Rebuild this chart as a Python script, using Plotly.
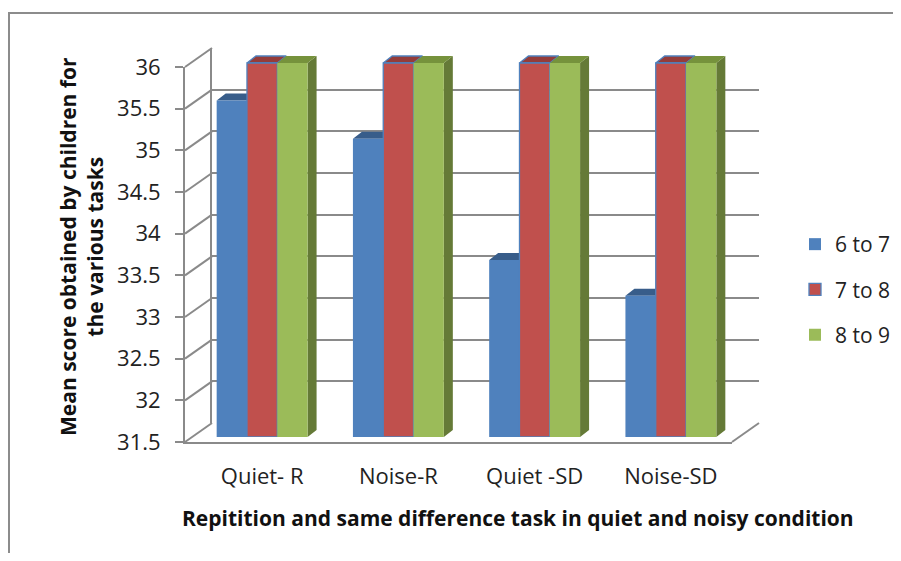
import plotly.graph_objects as go

# ---------------- data ----------------
categories = ["Quiet- R", "Noise-R", "Quiet -SD", "Noise-SD"]
series_names = ["6 to 7", "7 to 8", "8 to 9"]
age_6_7 = [35.55, 35.09, 33.63, 33.2]
age_7_8 = [36, 36, 36, 36]
age_8_9 = [36, 36, 36, 36]
y_ticks = [31.5, 32, 32.5, 33, 33.5, 34, 34.5, 35, 35.5, 36]
y_tick_labels = ["31.5", "32", "32.5", "33", "33.5", "34", "34.5", "35", "35.5", "36"]
x_title = "Repitition and same difference task in quiet and noisy condition"
y_title = "Mean score obtained by children for<br>the various tasks"

series_values = [age_6_7, age_7_8, age_8_9]

# ---------------- styling / geometry ----------------
# the page body has an 8px margin, so the figure is 885x545 placed at (8, 8)
OX, OY = 8, 8
W, H = 885, 545
FONT = "Open Sans"
GRID = "#8a8a8a"
TXT = "#222222"
front_colors = ["#4f81bd", "#c0504d", "#9bbb59"]
top_colors = ["#385d8a", "#943c3a", "#76923c"]
side_colors = ["#3a5f8c", "#8b3a38", "#657a37"]
outline_colors = ["#4f81bd", "#4f81bd", "#9bbb59"]
outline_widths = [0, 1.3, 0]

YMIN, YMAX = 31.5, 36.0
XR = [-0.5, 3.5]


def fx(p):
    """window pixel x -> paper fraction"""
    return (p - OX) / W


def fy(p):
    """window pixel y -> paper fraction"""
    return 1 - (p - OY) / H


# pixel boxes (window coordinates)
FRONT_X, FRONT_Y = (185, 732), (442, 67)
BACK_X, BACK_Y = (212, 759), (423, 48)
BAR_X = (194, 739)
BAR_BOTTOM, BAR_PX_PER_UNIT = 437, (437 - 63) / (YMAX - YMIN)
BAR_YMAX = 36.5
BAR_TOP = BAR_BOTTOM - (BAR_YMAX - YMIN) * BAR_PX_PER_UNIT

cat_px = (BAR_X[1] - BAR_X[0]) / 4
bw = 30.3 / cat_px
ddx = 9 / cat_px
ddy = 7 / BAR_PX_PER_UNIT

fig = go.Figure()

# empty traces so the wall / front-axis subplots are rendered
fig.add_trace(go.Scatter(x=[], y=[], xaxis="x", yaxis="y", showlegend=False, hoverinfo="skip"))
fig.add_trace(go.Scatter(x=[], y=[], xaxis="x2", yaxis="y2", showlegend=False, hoverinfo="skip"))

# 3D faces (sides and tops) under the front faces
for k, vals in enumerate(series_values):
    sx, sy, tx, ty = [], [], [], []
    for i, v in enumerate(vals):
        c = i + (k - 1) * bw
        x0, x1 = c - bw / 2, c + bw / 2
        sx += [x1, x1 + ddx, x1 + ddx, x1, x1, None]
        sy += [YMIN, YMIN + ddy, v + ddy, v, YMIN, None]
        tx += [x0, x0 + ddx, x1 + ddx, x1, x0, None]
        ty += [v, v + ddy, v + ddy, v, v, None]
    fig.add_trace(go.Scatter(x=sx, y=sy, fill="toself", mode="lines",
                             fillcolor=side_colors[k], line=dict(width=0, color=side_colors[k]),
                             xaxis="x3", yaxis="y3", showlegend=False, hoverinfo="skip"))
    fig.add_trace(go.Scatter(x=tx, y=ty, fill="toself", mode="lines",
                             fillcolor=top_colors[k],
                             line=dict(width=outline_widths[k], color=outline_colors[k]),
                             xaxis="x3", yaxis="y3", showlegend=False, hoverinfo="skip"))

# front faces: real bars
for k, vals in enumerate(series_values):
    fig.add_trace(go.Bar(
        x=[i + (k - 1) * bw for i in range(len(categories))],
        y=[v - YMIN for v in vals], base=YMIN, width=bw,
        name=series_names[k], legendgroup=series_names[k],
        marker=dict(color=front_colors[k],
                    line=dict(color=outline_colors[k], width=outline_widths[k])),
        xaxis="x4", yaxis="y4",
        customdata=vals, hovertemplate="%{customdata}<extra>" + series_names[k] + "</extra>",
    ))

# ---------------- decorations: 3D wall connectors ----------------
shapes = []


def front_py(v):
    return FRONT_Y[0] - (v - YMIN) / (YMAX - YMIN) * (FRONT_Y[0] - FRONT_Y[1])


def back_py(v):
    return BACK_Y[0] - (v - YMIN) / (YMAX - YMIN) * (BACK_Y[0] - BACK_Y[1])


for v in y_ticks:
    shapes.append(dict(type="line", xref="paper", yref="paper",
                       x0=fx(FRONT_X[0]), y0=fy(front_py(v)), x1=fx(BACK_X[0]), y1=fy(back_py(v)),
                       line=dict(color=GRID, width=2), layer="below"))
shapes.append(dict(type="line", xref="paper", yref="paper",
                   x0=fx(FRONT_X[1]), y0=fy(front_py(YMIN)), x1=fx(BACK_X[1]), y1=fy(back_py(YMIN)),
                   line=dict(color=GRID, width=2), layer="below"))
# outer chart frame (its right/bottom sides fall outside the picture)
shapes.append(dict(type="rect", xref="paper", yref="paper",
                   x0=fx(9), y0=fy(13), x1=1.2, y1=-0.2,
                   line=dict(color="#8c8c8c", width=2), layer="below"))

off = dict(showgrid=False, zeroline=False, showline=False, showticklabels=False, ticks="")

fig.update_layout(
    width=W, height=H,
    margin=dict(l=0, r=0, t=0, b=0, pad=0, autoexpand=False),
    paper_bgcolor="white", plot_bgcolor="rgba(0,0,0,0)",
    barmode="overlay",
    font=dict(family=FONT, size=21, color=TXT),
    showlegend=True,
    legend=dict(x=fx(795), y=fy(224), xanchor="left", yanchor="top",
                font=dict(family=FONT, size=21, color=TXT),
                tracegroupgap=15, bgcolor="rgba(0,0,0,0)", itemwidth=30),
    # back wall
    xaxis=dict(domain=[fx(BACK_X[0]), fx(BACK_X[1])], range=XR, anchor="y", **off),
    yaxis=dict(domain=[fy(BACK_Y[0]), fy(BACK_Y[1])], range=[YMIN, YMAX], anchor="x",
               tickvals=y_ticks, showgrid=True, gridcolor=GRID, gridwidth=2,
               showline=True, linecolor=GRID, linewidth=2,
               zeroline=False, showticklabels=False, ticks=""),
    # front axes
    xaxis2=dict(domain=[fx(FRONT_X[0]), fx(FRONT_X[1])], range=XR, anchor="y2",
                showline=True, linecolor=GRID, linewidth=2, showgrid=False,
                zeroline=False, showticklabels=False, ticks=""),
    yaxis2=dict(domain=[fy(FRONT_Y[0]), fy(FRONT_Y[1])], range=[YMIN, YMAX], anchor="x2",
                tickvals=y_ticks, ticktext=y_tick_labels, ticks="outside", ticklen=8,
                tickcolor=GRID, tickwidth=2, showline=True, linecolor=GRID, linewidth=2,
                showgrid=False, zeroline=False, ticklabelstandoff=10,
                tickfont=dict(family=FONT, size=22, color=TXT)),
    # bar faces
    xaxis3=dict(domain=[fx(BAR_X[0]), fx(BAR_X[1])], range=XR, anchor="y3", **off),
    yaxis3=dict(domain=[fy(BAR_BOTTOM), fy(BAR_TOP)], range=[YMIN, BAR_YMAX], anchor="x3", **off),
    xaxis4=dict(domain=[fx(BAR_X[0]), fx(BAR_X[1])], range=XR, anchor="y4",
                tickvals=list(range(len(categories))), ticktext=categories,
                showgrid=False, zeroline=False, showline=False, ticks="",
                ticklabelstandoff=24,
                tickfont=dict(family=FONT, size=22, color=TXT)),
    yaxis4=dict(domain=[fy(BAR_BOTTOM), fy(BAR_TOP)], range=[YMIN, BAR_YMAX], anchor="x4", **off),
    shapes=shapes,
    annotations=[
        dict(text="<b>" + y_title + "</b>", xref="paper", yref="paper",
             x=fx(81), y=fy(247), xanchor="center", yanchor="middle",
             textangle=-90, showarrow=False,
             font=dict(family=FONT, size=21, color="#111111"), align="center"),
        dict(text="<b>" + x_title + "</b>", xref="paper", yref="paper",
             x=fx(518), y=fy(518), xanchor="center", yanchor="middle", showarrow=False,
             font=dict(family=FONT, size=21, color="#111111")),
    ],
)

fig.write_html("out.html")
